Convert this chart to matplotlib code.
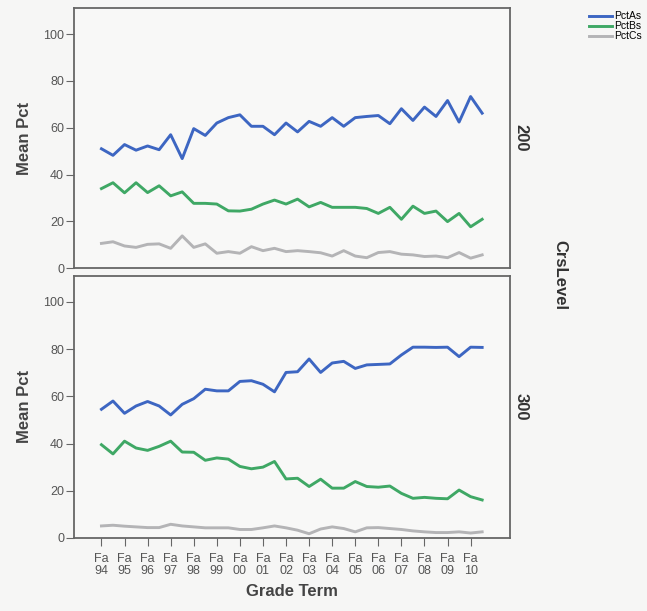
import matplotlib.pyplot as plt

plt.rcParams['font.family'] = ['Liberation Sans', 'DejaVu Sans']

# terms: Fa94, Sp95, Fa95, ... Fa10, Sp11
years = ['94', '95', '96', '97', '98', '99', '00', '01', '02',
         '03', '04', '05', '06', '07', '08', '09', '10']
tick_labels = ['Fa\n' + y for y in years]

a_200 = [51, 48.2, 52.8, 50.4, 52.2, 50.6, 57, 46.8, 59.6, 56.7, 62, 64.3,
         65.5, 60.6, 60.6, 57, 62, 58.2, 62.7, 60.6, 64.3, 60.6, 64.3, 64.8,
         65.2, 61.7, 68.1, 63.1, 68.8, 64.8, 71.6, 62.4, 73.3, 66.2]
b_200 = [34, 36.5, 32.2, 36.5, 32.3, 35.2, 30.9, 32.6, 27.7, 27.7, 27.4, 24.5,
         24.4, 25.2, 27.4, 29.1, 27.4, 29.5, 26.2, 28.1, 26, 26, 26, 25.5,
         23.4, 26, 20.9, 26.5, 23.4, 24.4, 19.9, 23.4, 17.7, 20.9]
c_200 = [10.6, 11.3, 9.5, 8.9, 10.2, 10.4, 8.5, 13.8, 8.9, 10.4, 6.4, 7.1,
         6.4, 9.2, 7.5, 8.5, 7.1, 7.5, 7.1, 6.6, 5.2, 7.5, 5.2, 4.5,
         6.7, 7.1, 6, 5.7, 5, 5.2, 4.5, 6.7, 4.3, 5.7]

a_300 = [54.5, 58, 52.8, 55.9, 57.8, 55.9, 52.1, 56.6, 59, 63, 62.3, 62.3,
         66.3, 66.6, 65.1, 61.9, 70.1, 70.4, 75.8, 70.1, 74.1, 74.8, 71.8, 73.3,
         73.5, 73.7, 77.5, 80.8, 80.8, 80.7, 80.8, 76.8, 80.8, 80.7]
b_300 = [39.5, 35.6, 41, 38.1, 37.1, 38.8, 41, 36.4, 36.3, 32.9, 33.9, 33.4,
         30.3, 29.3, 30, 32.4, 25, 25.3, 21.8, 24.9, 21.1, 21.1, 23.9, 21.8,
         21.5, 22, 18.9, 16.8, 17.2, 16.8, 16.6, 20.3, 17.5, 16.1]
c_300 = [5.1, 5.4, 5, 4.7, 4.4, 4.4, 5.8, 5.1, 4.7, 4.3, 4.3, 4.3,
         3.6, 3.6, 4.3, 5.1, 4.3, 3.3, 1.8, 3.8, 4.7, 4, 2.6, 4.3,
         4.4, 4, 3.6, 3, 2.6, 2.3, 2.3, 2.6, 2.1, 2.6]

colors = {'PctAs': '#3d66c2', 'PctBs': '#3fa865', 'PctCs': '#b4b4b6'}
frame = '#666666'

fig = plt.figure(figsize=(6.47, 6.11), dpi=100, facecolor='#f6f6f5')
ax1 = fig.add_axes([0.114, 0.561, 0.674, 0.4255])
ax2 = fig.add_axes([0.114, 0.1195, 0.674, 0.429])

x = list(range(len(a_200)))
panels = [(ax1, a_200, b_200, c_200, '200'), (ax2, a_300, b_300, c_300, '300')]
for ax, a, b, c, lvl in panels:
    ax.set_facecolor('#f8f8f7')
    ax.plot(x, a, color=colors['PctAs'], lw=2.1, label='PctAs')
    ax.plot(x, b, color=colors['PctBs'], lw=2.1, label='PctBs')
    ax.plot(x, c, color=colors['PctCs'], lw=2.1, label='PctCs')
    ax.set_xlim(-2.4, 35.4)
    ax.set_ylim(0, 111)
    ax.set_yticks([0, 20, 40, 60, 80, 100])
    ax.tick_params(axis='y', direction='out', length=6, color=frame,
                   labelsize=9, labelcolor='#555555', pad=1)
    for s in ax.spines.values():
        s.set_color(frame)
        s.set_linewidth(1.3)
    ax.set_ylabel('Mean Pct', fontsize=12, fontweight='bold', color='#444444', labelpad=8)
    ax.text(1.025, 0.5, lvl, transform=ax.transAxes, rotation=-90, fontsize=12,
            fontweight='bold', color='#333333', ha='center', va='center')

ax1.set_xticks([])
ax2.set_xticks(list(range(0, len(a_300), 2)))
ax2.set_xticklabels(tick_labels, linespacing=0.95)
ax2.tick_params(axis='x', direction='out', length=6, color=frame,
                labelsize=9, labelcolor='#555555', pad=5)
ax2.set_xlabel('Grade Term', fontsize=12, fontweight='bold', color='#444444', labelpad=5)

fig.text(0.866, 0.55, 'CrsLevel', rotation=-90, fontsize=12, fontweight='bold',
         color='#333333', ha='center', va='center')

handles, labels = ax1.get_legend_handles_labels()
fig.legend(handles, labels, loc='upper right', bbox_to_anchor=(1.0, 0.99),
           frameon=False, fontsize=7.5, handlelength=2.3, handletextpad=0.15,
           labelspacing=0.0, borderaxespad=0.1)

fig.savefig('out.png', dpi=100, facecolor=fig.get_facecolor())
